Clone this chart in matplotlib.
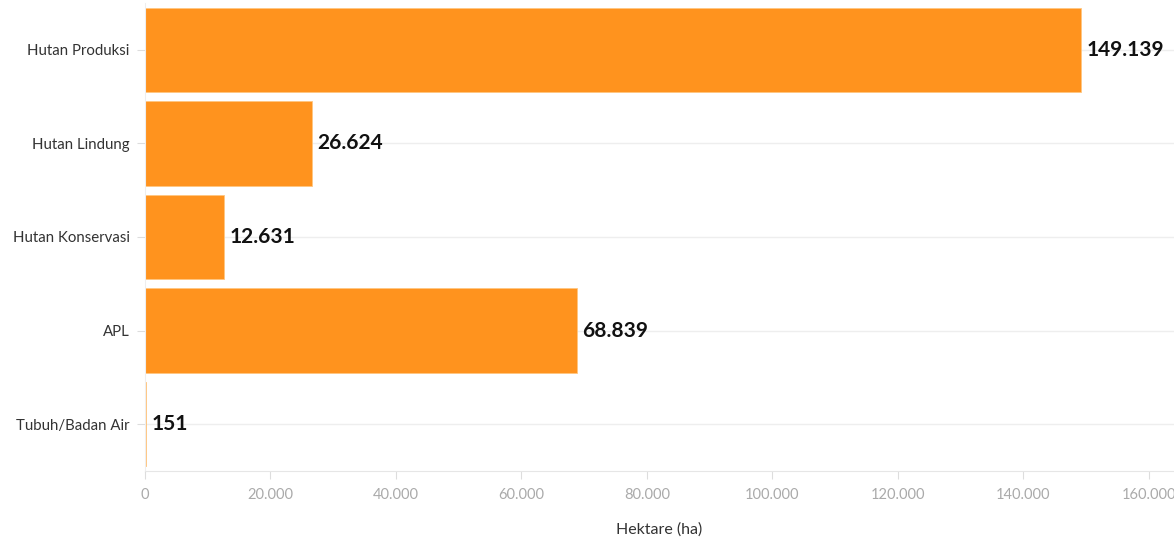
import matplotlib.pyplot as plt
from matplotlib.ticker import FuncFormatter

# Data
kategori = ['Hutan Produksi', 'Hutan Lindung', 'Hutan Konservasi', 'APL', 'Tubuh/Badan Air']
luas_ha = [149139, 26624, 12631, 68839, 151]

warna = '#FF931E'

def fmt_id(x, pos=None):
    return '{:,.0f}'.format(x).replace(',', '.')

plt.rcParams['font.family'] = ['Lato', 'DejaVu Sans']

fig = plt.figure(figsize=(11.74, 5.38), dpi=100)
ax = fig.add_axes([145 / 1174, 1 - 471 / 538, 1 - 145 / 1174, 468 / 538])

ypos = list(range(len(kategori)))
ax.barh(ypos, luas_ha, height=0.9, color=warna, edgecolor='#FFC680', linewidth=0.6, zorder=2)

# Label nilai
for y, v in zip(ypos, luas_ha):
    ax.text(v + 900, y, fmt_id(v), va='center', ha='left',
            fontsize=15, fontweight='bold', color='#111111')

ax.set_yticks(ypos)
ax.set_yticklabels(kategori, fontsize=10.8, color='#333333')
ax.set_ylim(4.5, -0.5)
ax.set_xlim(0, 164000)
ax.set_xticks(range(0, 160001, 20000))
ax.xaxis.set_major_formatter(FuncFormatter(fmt_id))
ax.tick_params(axis='x', colors='#dddddd', labelcolor='#aaaaaa', labelsize=10.5, length=6, pad=6)
ax.tick_params(axis='y', colors='#dddddd', labelcolor='#333333', length=6, pad=5)

ax.grid(axis='y', color='#eeeeee', linewidth=1, zorder=0)
for s in ['top', 'right']:
    ax.spines[s].set_visible(False)
ax.spines['left'].set_color('#eeeeee')
ax.spines['bottom'].set_color('#e6e6e6')

ax.set_xlabel('Hektare (ha)', fontsize=11.5, color='#333333', labelpad=15)

fig.savefig('out.png', dpi=100)
